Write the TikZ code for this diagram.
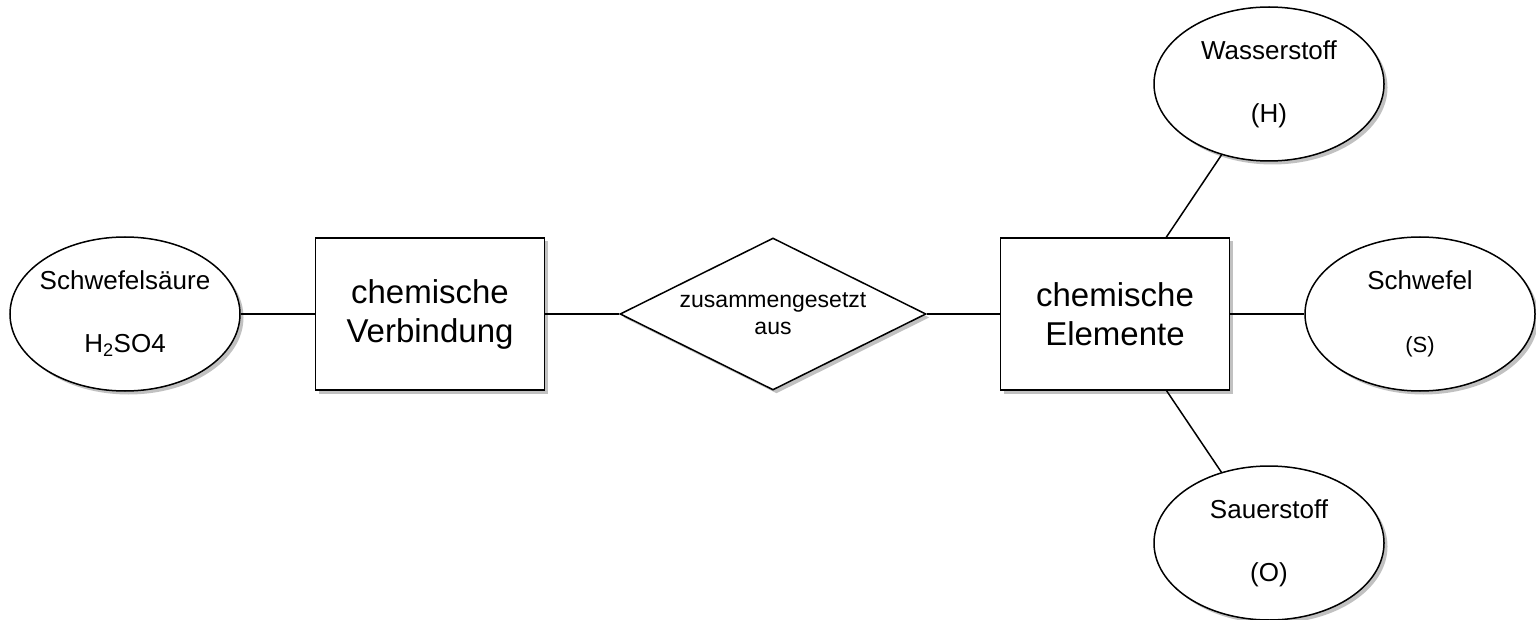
\documentclass[tikz,border=0pt]{standalone}
\usepackage{fontspec}
\setmainfont{Liberation Sans}
\usepackage{tikz}
\usetikzlibrary{shapes,shadows}

\tikzset{
	base/.style={draw, line width=1.5pt, fill=white, inner sep=0pt, align=center,
		drop shadow={shadow xshift=3.5pt, shadow yshift=-3.5pt, fill=black!30, opacity=.8}},
	entity/.style={base, rectangle, minimum width=229pt, minimum height=152pt,
		font=\fontsize{33}{39}\selectfont},
	attrib/.style={base, ellipse, inner xsep=-30pt, minimum width=230pt, minimum height=154pt,
		font=\fontsize{26}{31}\selectfont},
	relation/.style={base, diamond, aspect=2, minimum width=306pt, minimum height=152pt,
		font=\fontsize{23}{27}\selectfont},
	link/.style={line width=1.5pt}
}

\begin{document}
\begin{tikzpicture}[x=1pt,y=-1pt]
		\useasboundingbox (0,0) rectangle (1536,620);
		\node[attrib] (saeure) at (125,314) {Schwefelsäure\\[32pt]H\textsubscript{2}SO4};
		\node[entity] (verbindung) at (430,314) {chemische\\Verbindung};
		\node[relation] (zusammen) at (773,314) {zusammengesetzt\\aus};
		\node[entity] (elemente) at (1115,314) {chemische\\Elemente};
		\node[attrib] (wasserstoff) at (1269,84) {Wasserstoff\\[32pt](H)};
		\node[attrib] (schwefel) at (1420,314) {Schwefel\\[32pt]{\fontsize{22}{26}\selectfont (S)}};
		\node[attrib] (sauerstoff) at (1269,543) {Sauerstoff\\[32pt](O)};
		\foreach \a / \b in {saeure/verbindung,verbindung/zusammen,zusammen/elemente,elemente/schwefel,elemente/wasserstoff,elemente/sauerstoff} { \draw[link] (\a) -- (\b);}
	\end{tikzpicture}
\end{document}
